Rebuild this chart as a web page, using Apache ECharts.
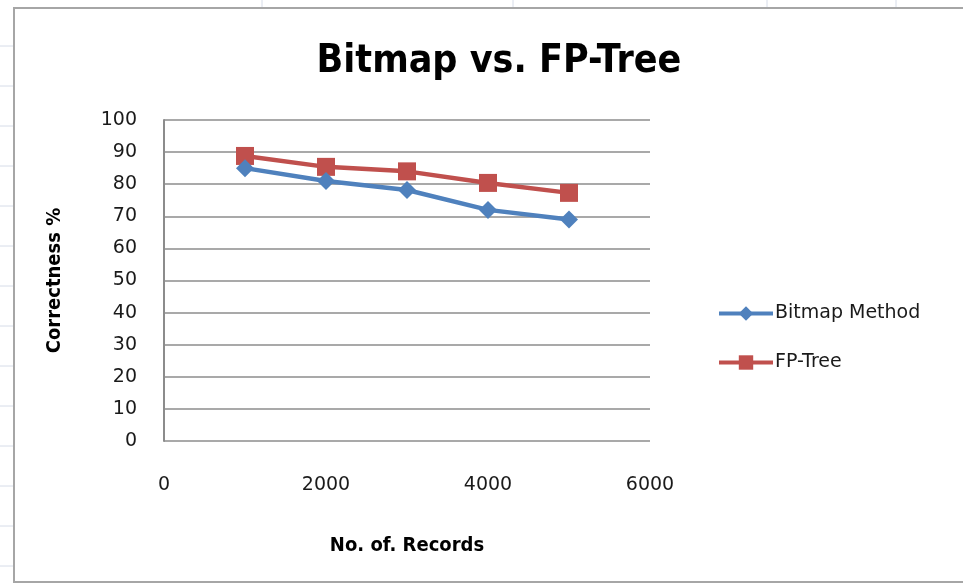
<!DOCTYPE html>
<html>
<head>
<meta charset="utf-8">
<script src="https://cdn.jsdelivr.net/npm/echarts@6/dist/echarts.min.js"></script>
<style>
  html, body { margin: 0; padding: 0; background: #fff; }
  #main { width: 963px; height: 584px; }
</style>
</head>
<body>
<div id="main"></div>
<script>
// 数据
var records = [1000, 2000, 3000, 4000, 5000];
var bitmapValues = [85, 81, 78.2, 72, 69];
var fpTreeValues = [88.8, 85.4, 84, 80.4, 77.3];
var seriesNames = ["Bitmap Method", "FP-Tree"];

(function() {
  var myChart = echarts.init(document.getElementById("main"));

  function pairs(xs, ys) {
    return xs.map(function(x, i) {
      return [x, ys[i]];
    });
  }

  // 表格背景的淡网格线
  var sheetLines = [];
  for (var y = 46; y < 584; y += 40) {
    sheetLines.push({
      type: "line",
      shape: { x1: 0, y1: y, x2: 13, y2: y },
      style: { stroke: "#d6dce8", lineWidth: 1 },
    });
  }
  [262, 513, 767, 896].forEach(function(x) {
    sheetLines.push({
      type: "line",
      shape: { x1: x, y1: 0, x2: x, y2: 7 },
      style: { stroke: "#d6dce8", lineWidth: 1 },
    });
  });

  var textFont = "DejaVu Sans, Verdana, sans-serif";
  var boldFont = "Liberation Sans Narrow, DejaVu Sans Condensed, sans-serif";

  var option = {
    animation: false,
    backgroundColor: "#fff",
    graphic: sheetLines.concat([
      {
        type: "rect",
        shape: { x: 14, y: 8, width: 960, height: 574 },
        style: { fill: "none", stroke: "#a6a6a6", lineWidth: 2 },
      },
    ]),
    title: {
      text: "Bitmap vs. FP-Tree",
      left: 494,
      top: 37,
      textAlign: "center",
      textStyle: {
        fontFamily: boldFont,
        fontWeight: "bold",
        fontSize: 39,
        color: "#000",
      },
    },
    color: ["#4f81bd", "#c0504d"],
    legend: {
      orient: "vertical",
      left: 717,
      top: 304,
      padding: 0,
      itemWidth: 54,
      itemHeight: 18,
      itemGap: 30,
      data: seriesNames,
      lineStyle: { width: 4 },
      textStyle: {
        fontFamily: textFont,
        fontSize: 19,
        color: "#1a1a1a",
        padding: [0, 0, 0, -3],
      },
    },
    grid: {
      left: 164,
      top: 120,
      right: 313,
      bottom: 143,
    },
    xAxis: {
      type: "value",
      min: 0,
      max: 6000,
      interval: 2000,
      name: "No. of. Records",
      nameLocation: "middle",
      nameGap: 95,
      nameTextStyle: {
        fontFamily: boldFont,
        fontWeight: "bold",
        fontSize: 20,
        color: "#000",
      },
      axisLine: { show: false },
      axisTick: { show: false },
      splitLine: { show: false },
      axisLabel: {
        margin: 35,
        fontFamily: textFont,
        fontSize: 19,
        color: "#1a1a1a",
        formatter: function(v) {
          return String(v);
        },
      },
    },
    yAxis: {
      type: "value",
      min: 0,
      max: 100,
      interval: 10,
      name: "Correctness %",
      nameLocation: "middle",
      nameGap: 99,
      nameRotate: 90,
      nameTextStyle: {
        fontFamily: boldFont,
        fontWeight: "bold",
        fontSize: 20,
        color: "#000",
      },
      axisLine: {
        show: true,
        lineStyle: { color: "#8c8c8c", width: 2 },
      },
      axisTick: { show: false },
      axisLabel: {
        margin: 27,
        fontFamily: textFont,
        fontSize: 19,
        color: "#1a1a1a",
      },
      splitLine: {
        lineStyle: { color: "#8c8c8c", width: 1.5 },
      },
    },
    series: [
      {
        name: seriesNames[0],
        type: "line",
        data: pairs(records, bitmapValues),
        symbol: "diamond",
        symbolSize: 18,
        lineStyle: { width: 4.5 },
        z: 3,
      },
      {
        name: seriesNames[1],
        type: "line",
        data: pairs(records, fpTreeValues),
        symbol: "rect",
        symbolSize: 18,
        lineStyle: { width: 4.5 },
        z: 2,
      },
    ],
  };

  myChart.setOption(option);
  window.addEventListener("resize", function() {
    myChart.resize();
  });
})();
</script>
</body>
</html>
